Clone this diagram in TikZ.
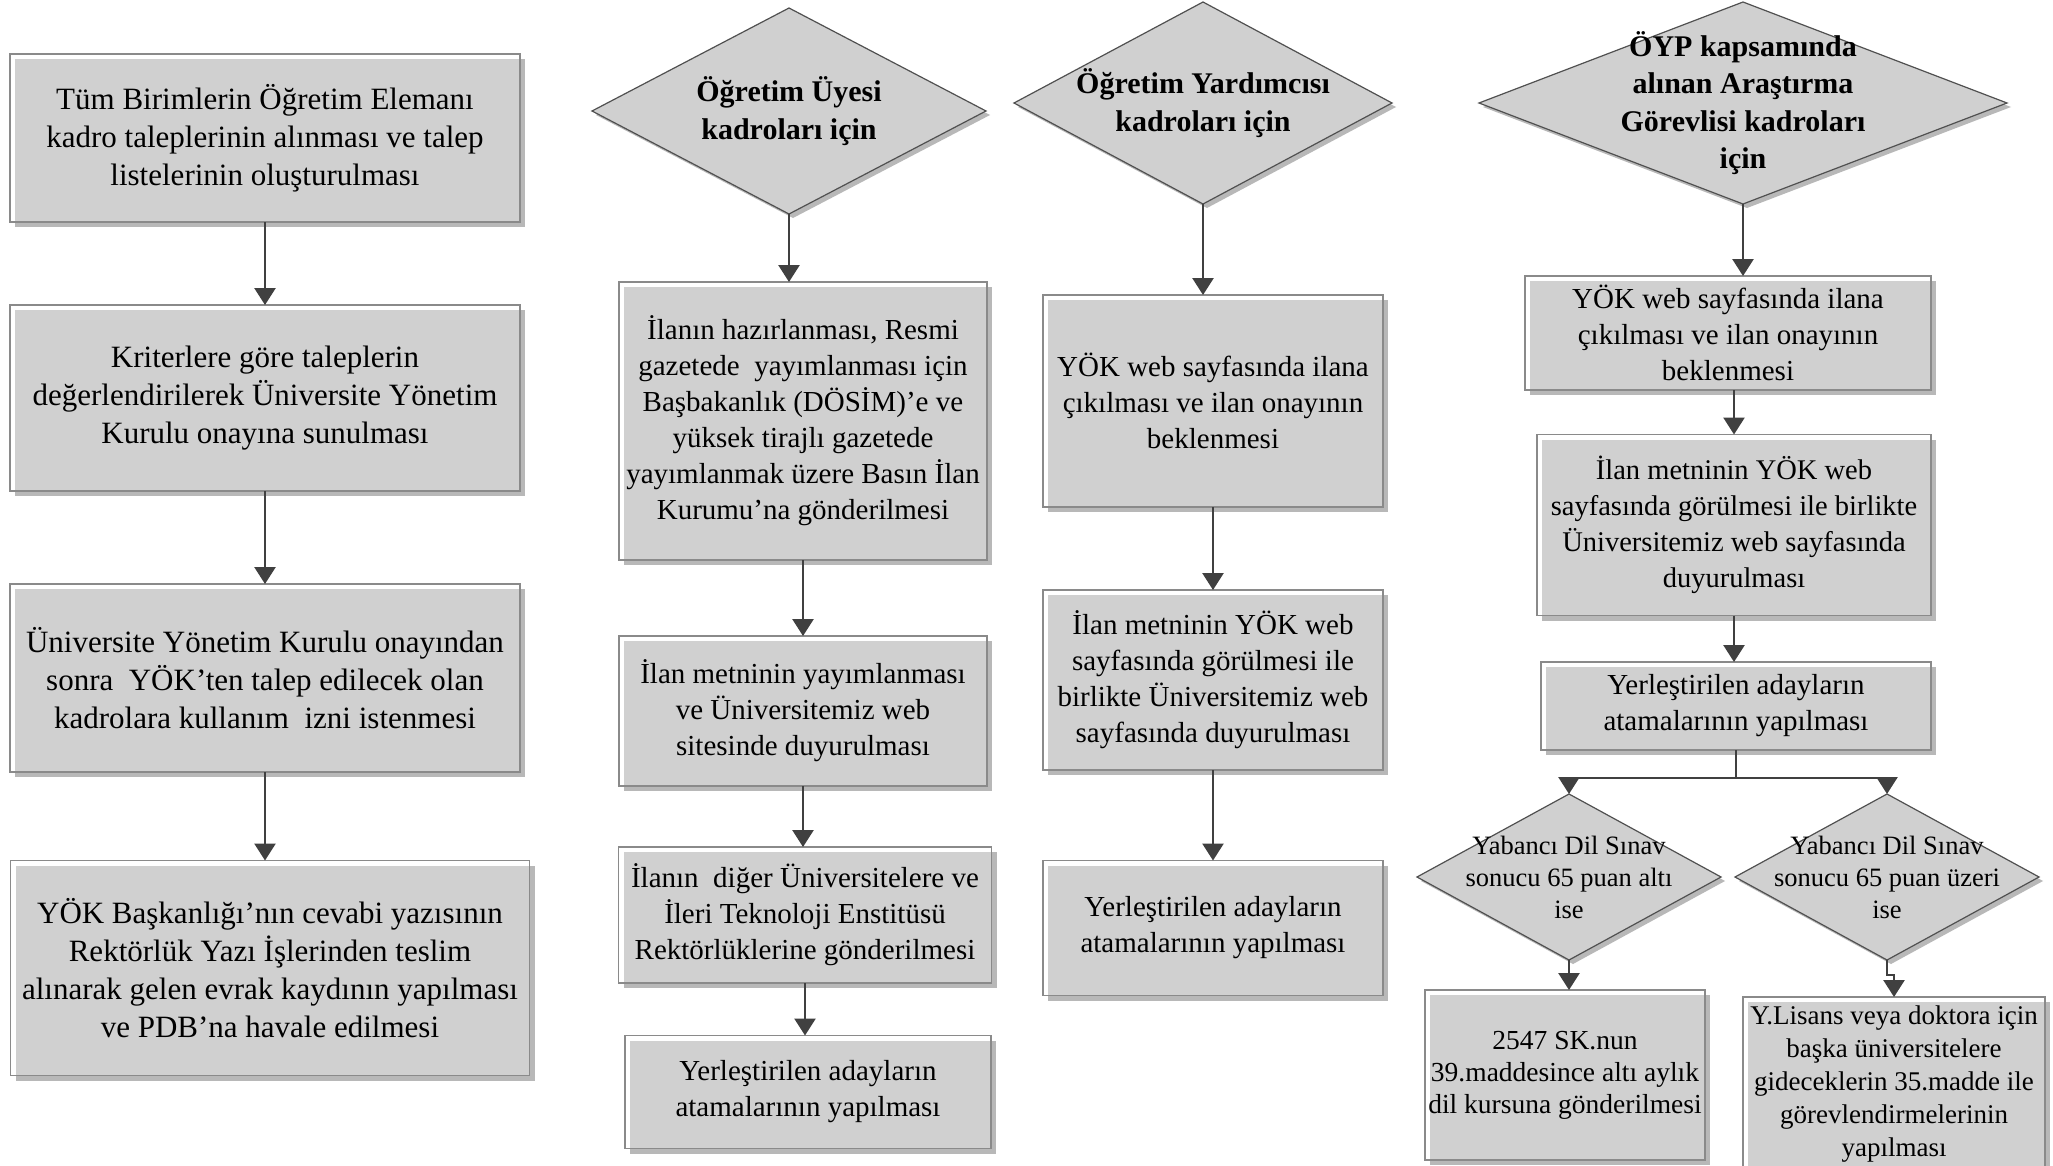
\documentclass[tikz,border=0pt]{standalone}
\usepackage{fontspec}
\setmainfont{Liberation Serif}
\usetikzlibrary{shapes.geometric,shadows,arrows.meta}
\definecolor{boxgray}{HTML}{D0D0D0}
\definecolor{bordergray}{HTML}{8A8A8A}
\definecolor{arrowgray}{HTML}{404040}
\definecolor{shadowgray}{HTML}{B8B8B8}
\definecolor{diaborder}{HTML}{505050}
\begin{document}
\begin{tikzpicture}[x=1pt,y=-1pt,
 box/.style={rectangle, draw=bordergray, line width=1.6pt, fill=white, align=center,
   inner sep=0pt, outer sep=0pt, font=\fontsize{29}{36}\selectfont,
   drop shadow={shadow xshift=5pt, shadow yshift=-5pt, fill=shadowgray, opacity=1},
   path picture={\fill[boxgray] ([shift={(5pt,-5pt)}]path picture bounding box.north west) rectangle (path picture bounding box.south east);}},
 lbox/.style={box, font=\fontsize{31}{38}\selectfont},
 sbox/.style={box, font=\fontsize{26.5}{32}\selectfont},
 dia/.style={diamond, draw=diaborder, line width=1.2pt, fill=boxgray, inner sep=0pt, outer sep=0pt,
   drop shadow={shadow xshift=4pt, shadow yshift=-4pt, fill=shadowgray, opacity=1}},
 dtext/.style={align=center, font=\bfseries\fontsize{30}{37.5}\selectfont, inner sep=0pt},
 stext/.style={align=center, font=\fontsize{26.5}{32}\selectfont, inner sep=0pt},
 arr/.style={draw=arrowgray, line width=2.6pt, -{Triangle[length=17pt,width=21pt]}},
 ln/.style={draw=arrowgray, line width=2.6pt}]
\useasboundingbox[fill=white] (0,0) rectangle (2053,1165);

% Column 1
\node[lbox, minimum width=510pt, minimum height=168pt] (a) at (265,138)
 {Tüm Birimlerin Öğretim Elemanı\\kadro taleplerinin alınması ve talep\\listelerinin oluşturulması};
\node[lbox, minimum width=510pt, minimum height=186pt] (b) at (265,398)
 {Kriterlere göre taleplerin\\değerlendirilerek Üniversite Yönetim\\Kurulu onayına sunulması};
\node[lbox, minimum width=510pt, minimum height=188pt] (c) at (265,678)
 {Üniversite Yönetim Kurulu onayından\\sonra\ \ YÖK’ten talep edilecek olan\\kadrolara kullanım\ \ izni istenmesi};
\node[lbox, minimum width=519pt, minimum height=215pt] (d) at (270,968)
 {YÖK Başkanlığı’nın cevabi yazısının\\Rektörlük Yazı İşlerinden teslim\\alınarak gelen evrak kaydının yapılması\\ve PDB’na havale edilmesi};
\draw[arr] (a.south) -- (b.north);
\draw[arr] (b.south) -- (c.north);
\draw[arr] (c.south) -- (c.south |- d.north);

% Column 2
\node[dia, minimum width=394pt, minimum height=206pt] (d1) at (789,111) {};
\node[dtext] (d1t) at (d1.center) {Öğretim Üyesi\\kadroları için};
\node[box, minimum width=368pt, minimum height=278pt] (e) at (803,421)
 {İlanın hazırlanması, Resmi\\gazetede\ \ yayımlanması için\\Başbakanlık (DÖSİM)’e ve\\yüksek tirajlı gazetede\\yayımlanmak üzere Basın İlan\\Kurumu’na gönderilmesi};
\node[box, minimum width=368pt, minimum height=150pt] (f) at (803,711)
 {İlan metninin yayımlanması\\ve Üniversitemiz web\\sitesinde duyurulması};
\node[box, minimum width=373pt, minimum height=136pt] (g) at (805,915)
 {İlanın\ \ diğer Üniversitelere ve\\İleri Teknoloji Enstitüsü\\Rektörlüklerine gönderilmesi};
\node[box, minimum width=366pt, minimum height=113pt] (h) at (808,1092)
 {Yerleştirilen adayların\\atamalarının yapılması};
\draw[arr] (d1.south) -- (d1.south |- e.north);
\draw[arr] (e.south) -- (f.north);
\draw[arr] (f.south) -- (f.south |- g.north);
\draw[arr] (g.south) -- (g.south |- h.north);

% Column 3
\node[dia, minimum width=378pt, minimum height=202pt] (d2) at (1203,103) {};
\node[dtext] (d2t) at (d2.center) {Öğretim Yardımcısı\\kadroları için};
\node[box, minimum width=340pt, minimum height=212pt] (i) at (1213,401)
 {YÖK web sayfasında ilana\\çıkılması ve ilan onayının\\beklenmesi};
\node[box, minimum width=340pt, minimum height=180pt] (j) at (1213,680)
 {İlan metninin YÖK web\\sayfasında görülmesi ile\\birlikte Üniversitemiz web\\sayfasında duyurulması};
\node[box, minimum width=340pt, minimum height=135pt] (k) at (1213,928)
 {Yerleştirilen adayların\\atamalarının yapılması};
\draw[arr] (d2.south) -- (d2.south |- i.north);
\draw[arr] (i.south) -- (j.north);
\draw[arr] (j.south) -- (k.north);

% Column 4
\node[dia, minimum width=528pt, minimum height=202pt] (d3) at (1743,103) {};
\node[dtext] (d3t) at (d3.center) {ÖYP kapsamında\\alınan Araştırma\\Görevlisi kadroları\\için};
\node[box, minimum width=406pt, minimum height=114pt] (l) at (1728,333)
 {YÖK web sayfasında ilana\\çıkılması ve ilan onayının\\beklenmesi};
\node[box, minimum width=394pt, minimum height=181pt, font=\fontsize{28.5}{36}\selectfont] (m) at (1734,525)
 {İlan metninin YÖK web\\sayfasında görülmesi ile birlikte\\Üniversitemiz web sayfasında\\duyurulması};
\node[box, minimum width=390pt, minimum height=88pt] (n) at (1736,706)
 {Yerleştirilen adayların\\atamalarının yapılması};
\draw[arr] (d3.south) -- (d3.south |- l.north);
\draw[arr] (m.north |- l.south) -- (m.north);
\draw[arr] (m.south) -- (m.south |- n.north);

\node[dia, minimum width=304pt, minimum height=166pt] (d4) at (1569,877) {};
\node[stext] (d4t) at (d4.center) {Yabancı Dil Sınav\\sonucu 65 puan altı\\ise};
\node[dia, minimum width=304pt, minimum height=166pt] (d5) at (1887,877) {};
\node[stext] (d5t) at (d5.center) {Yabancı Dil Sınav\\sonucu 65 puan üzeri\\ise};
\coordinate (br) at (1736,778);
\draw[ln] (n.south) -- (br);
\draw[arr] (br) -| (d4.north);
\draw[arr] (br) -| (d5.north);

\node[sbox, minimum width=280pt, minimum height=170pt, font=\fontsize{27.5}{32}\selectfont] (o) at (1565,1075)
 {2547 SK.nun\\39.maddesince altı aylık\\dil kursuna gönderilmesi};
\node[sbox, minimum width=302pt, minimum height=174pt, font=\fontsize{27}{33}\selectfont] (p) at (1894,1084)
 {Y.Lisans veya doktora için\\başka üniversitelere\\gideceklerin 35.madde ile\\görevlendirmelerinin\\yapılması};
\draw[arr] (d4.south) -- (d4.south |- o.north);
\coordinate (jog) at ([yshift=-15pt]d5.south);
\draw[arr] (d5.south) -- (jog) -| (p.north);
\end{tikzpicture}
\end{document}
